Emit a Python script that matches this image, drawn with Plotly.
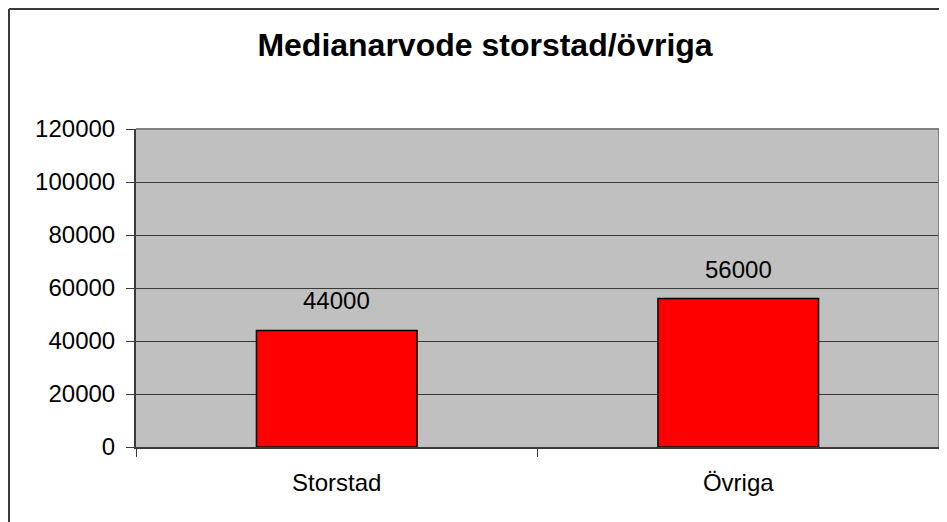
import plotly.graph_objects as go

categories = ["Storstad", "Övriga"]
median_fee = [44000, 56000]
y_ticks = [0, 20000, 40000, 60000, 80000, 100000, 120000]

FONT = "Liberation Sans, Arial, sans-serif"
DARK = "#3a3a3a"

# page body adds 8px offset, so the figure is a bit smaller than the window
W, H = 939, 514
L, T, R, B = 128, 121, 8, 75
PW, PH = W - L - R, H - T - B

fig = go.Figure()

fig.add_trace(
    go.Bar(
        x=categories,
        y=median_fee,
        width=0.4,
        marker=dict(color="#FF0000", line=dict(color="black", width=1.5)),
        showlegend=False,
        hoverinfo="x+y",
    )
)

# value labels above the bars
for cat, val in zip(categories, median_fee):
    fig.add_annotation(
        x=cat, y=val, text=str(val), showarrow=False,
        yanchor="bottom", yshift=14,
        font=dict(family=FONT, size=24, color="black"),
    )

# plot area border (gray top / right) and outer chart frame
fx = (1 - L) / PW
fy = 1 + (T - 1) / PH
fig.add_shape(type="line", xref="paper", yref="paper", x0=0, x1=1, y0=1, y1=1,
              line=dict(color="#808080", width=2))
fig.add_shape(type="line", xref="paper", yref="paper", x0=1, x1=1, y0=0, y1=1,
              line=dict(color="#808080", width=2))
fig.add_shape(type="line", xref="paper", yref="paper", x0=fx, x1=1.2, y0=fy, y1=fy,
              line=dict(color=DARK, width=2))
fig.add_shape(type="line", xref="paper", yref="paper", x0=fx, x1=fx, y0=-0.5, y1=fy,
              line=dict(color=DARK, width=2))

fig.update_layout(
    width=W,
    height=H,
    margin=dict(l=L, r=R, t=T, b=B),
    paper_bgcolor="white",
    plot_bgcolor="#C0C0C0",
    font=dict(family=FONT, size=24, color="black"),
    title=dict(
        text="<b>Medianarvode storstad/övriga</b>",
        x=477 / W, xanchor="center",
        y=1 - 37 / H, yanchor="middle",
        font=dict(family=FONT, size=32, color="black"),
    ),
    bargap=0.6,
)

fig.update_xaxes(
    type="category",
    tickson="boundaries",
    ticks="outside", ticklen=8, tickcolor=DARK, tickwidth=1,
    showline=True, linecolor=DARK, linewidth=2,
    showgrid=False,
    ticklabelstandoff=13,
    tickfont=dict(family=FONT, size=24),
)

fig.update_yaxes(
    range=[0, 120000],
    tickvals=y_ticks,
    ticktext=[str(v) for v in y_ticks],
    ticks="outside", ticklen=8, tickcolor=DARK, tickwidth=1,
    showline=True, linecolor=DARK, linewidth=2,
    showgrid=True, gridcolor=DARK, gridwidth=1,
    zeroline=False,
    ticklabelstandoff=6,
    tickfont=dict(family=FONT, size=24),
)

fig.write_html("out.html")
